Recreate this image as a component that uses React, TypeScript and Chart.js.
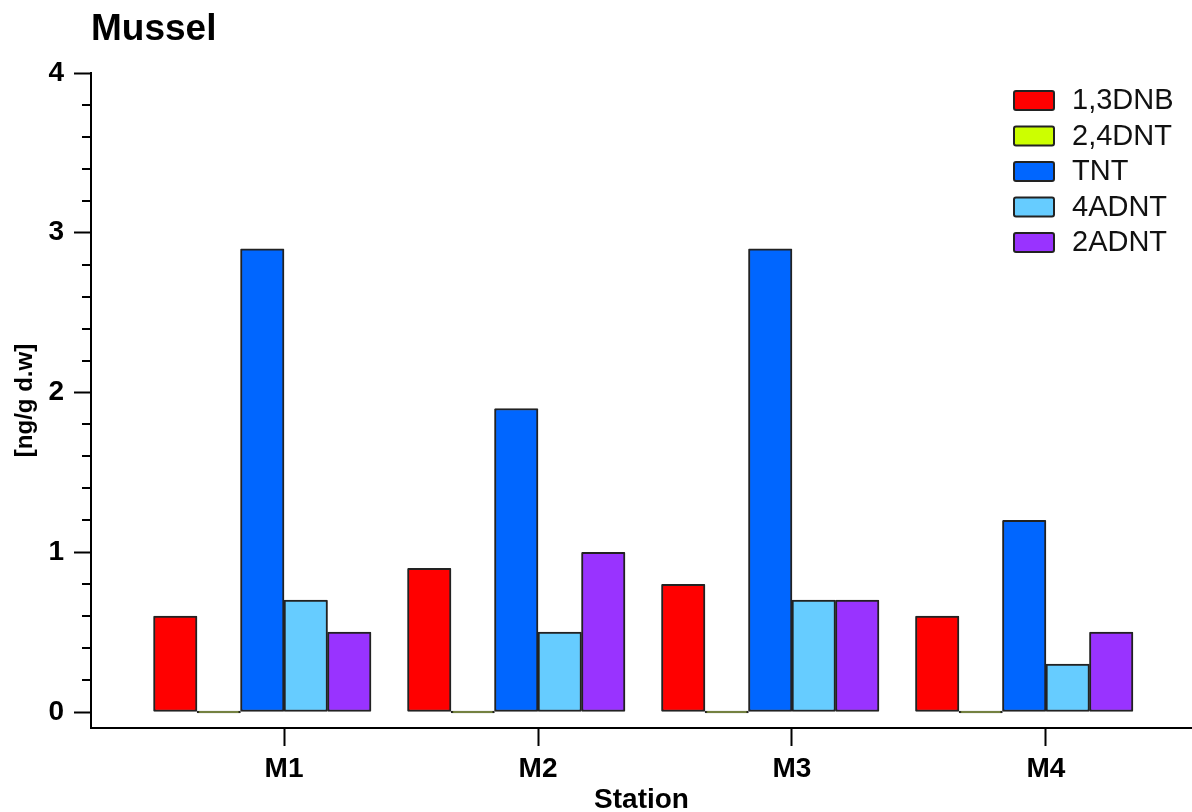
import React, { useEffect, useRef } from 'react';
import { Chart, registerables } from 'chart.js';

Chart.register(...registerables);

const stations = ['M1', 'M2', 'M3', 'M4'];
const seriesNames = ['1,3DNB', '2,4DNT', 'TNT', '4ADNT', '2ADNT'];
const dnb13 = [0.6, 0.9, 0.8, 0.6];
const dnt24 = [0, 0, 0, 0];
const tnt = [2.9, 1.9, 2.9, 1.2];
const adnt4 = [0.7, 0.5, 0.7, 0.3];
const adnt2 = [0.5, 1.0, 0.7, 0.5];
const spacer = [0, 0, 0, 0];
const yTicks = [0, 1, 2, 3, 4];
const yMinorTicks = [0.2, 0.4, 0.6, 0.8, 1.2, 1.4, 1.6, 1.8, 2.2, 2.4, 2.6, 2.8, 3.2, 3.4, 3.6, 3.8];
const colors = ['#FF0000', '#CCFF00', '#0066FF', '#66CCFF', '#9933FF'];

const FONT = '"Liberation Sans", Arial, sans-serif';

const toPoints = (arr: number[]) => arr.map((v, i) => ({ x: i + 1, y: v }));

const extrasPlugin = {
  id: 'extras',
  afterDraw(chart: any) {
    const ctx = chart.ctx;
    const y = chart.scales.y;
    const left = chart.chartArea.left;
    ctx.save();
    ctx.strokeStyle = '#000';
    ctx.lineWidth = 2;
    yMinorTicks.forEach((v) => {
      const py = Math.round(y.getPixelForValue(v));
      ctx.beginPath();
      ctx.moveTo(left - 9, py);
      ctx.lineTo(left, py);
      ctx.stroke();
    });
    const lx = 1014;
    let ly = 91;
    const rowH = 35.5;
    ctx.font = `29px ${FONT}`;
    ctx.textBaseline = 'middle';
    ctx.textAlign = 'left';
    chart.data.datasets.forEach((ds: any) => {
      if (ds.hideInLegend) return;
      ctx.fillStyle = ds.backgroundColor;
      ctx.strokeStyle = '#222';
      ctx.lineWidth = 2;
      ctx.beginPath();
      if (ctx.roundRect) ctx.roundRect(lx, ly, 40, 19, 2);
      else ctx.rect(lx, ly, 40, 19);
      ctx.fill();
      ctx.stroke();
      ctx.fillStyle = '#111';
      ctx.fillText(ds.label, lx + 58, ly + 10);
      ly += rowH;
    });
    ctx.restore();
  },
};

export default function App() {
  const ref = useRef<HTMLCanvasElement | null>(null);
  useEffect(() => {
    if (!ref.current) return;
    const seriesValues = [dnb13, dnt24, tnt, adnt4, adnt2];
    const datasets: any[] = seriesNames.map((name, i) => ({
      label: name,
      data: toPoints(seriesValues[i]),
      backgroundColor: colors[i],
      borderColor: '#222',
      borderWidth: 2,
      borderSkipped: false,
      borderRadius: 1,
      barThickness: 43.5,
      minBarLength: i === 1 ? 2 : 0,
    }));
    datasets.push({
      label: '',
      hideInLegend: true,
      data: toPoints(spacer),
      backgroundColor: 'rgba(0,0,0,0)',
      borderWidth: 0,
      barThickness: 43.5,
    });
    const chart = new Chart(ref.current, {
      type: 'bar',
      data: { datasets },
      plugins: [extrasPlugin],
      options: {
        animation: false,
        responsive: false,
        devicePixelRatio: 1,
        layout: { padding: 0 },
        plugins: {
          legend: { display: false },
          tooltip: { enabled: false },
          title: {
            display: true,
            text: 'Mussel',
            align: 'start',
            fullSize: false,
            color: '#000',
            font: { family: FONT, size: 37, weight: 'bold', lineHeight: 1.2 },
            padding: { top: 8, bottom: 20.6 },
          },
        },
        scales: {
          x: {
            type: 'linear',
            min: 0.24,
            max: 4.575,
            offset: false,
            afterFit: (s: any) => { s.height = 84; },
            afterBuildTicks: (s: any) => { s.ticks = stations.map((_, i) => ({ value: i + 1 })); },
            ticks: {
              callback: (v: any) => stations[Math.round(v) - 1] ?? '',
              color: '#000',
              font: { family: FONT, size: 28, weight: 'bold' },
              padding: 6,
              maxRotation: 0,
              autoSkip: false,
            },
            grid: { offset: false, drawOnChartArea: false, drawTicks: true, tickLength: 18, tickColor: '#000', tickWidth: 2 },
            border: { display: true, color: '#000', width: 2 },
            title: {
              display: true,
              text: 'Station',
              color: '#000',
              font: { family: FONT, size: 28, weight: 'bold', lineHeight: 1.2 },
              padding: { top: 0, bottom: -5 },
            },
          },
          y: {
            min: -0.1,
            max: 4,
            afterFit: (s: any) => { s.width = 91; },
            afterBuildTicks: (s: any) => { s.ticks = yTicks.map((v) => ({ value: v })); },
            ticks: {
              color: '#000',
              font: { family: FONT, size: 28, weight: 'bold' },
              padding: 10,
            },
            grid: { drawOnChartArea: false, drawTicks: true, tickLength: 17, tickColor: '#000', tickWidth: 2 },
            border: { display: true, color: '#000', width: 2 },
            title: {
              display: true,
              text: '[ng/g d.w]',
              color: '#000',
              font: { family: FONT, size: 24, weight: 'bold', lineHeight: 1.2 },
              padding: { top: 11, bottom: 0 },
            },
          },
        },
      } as any,
    });
    return () => chart.destroy();
  }, []);
  return (
    <div style={{ position: 'fixed', left: 0, top: 0, width: 1192, height: 812, background: '#fff' }}>
      <canvas ref={ref} width={1192} height={812} style={{ width: 1192, height: 812 }} />
    </div>
  );
}
